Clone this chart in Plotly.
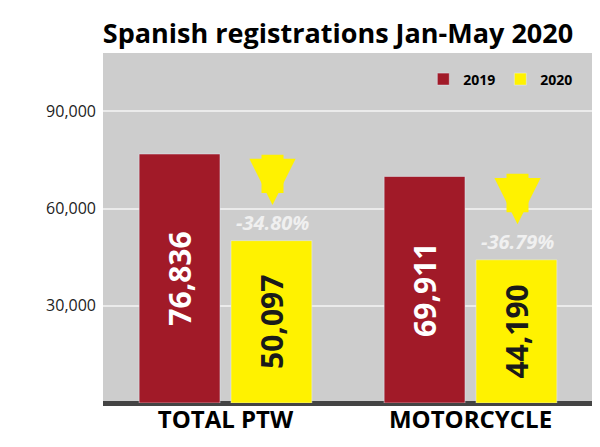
import plotly.graph_objects as go

categories = ["TOTAL PTW", "MOTORCYCLE"]
values_2019 = [76836, 69911]
values_2020 = [50097, 44190]
changes = ["-34.80%", "-36.79%"]

RED = "#a11a28"
YELLOW = "#fff200"

fig = go.Figure()
fig.add_trace(go.Bar(
    x=categories, y=values_2019, name="<b>2019</b>", marker_color=RED,
    text=[f"<b>{v:,}</b>" for v in values_2019], textposition="inside",
    textangle=-90, insidetextanchor="middle",
    textfont=dict(family="Open Sans", size=30, color="white"),
))
fig.add_trace(go.Bar(
    x=categories, y=values_2020, name="<b>2020</b>", marker_color=YELLOW,
    text=[f"<b>{v:,}</b>" for v in values_2020], textposition="inside",
    textangle=-90, insidetextanchor="middle",
    textfont=dict(family="Open Sans", size=30, color="#1a1a1a"),
))

# arrows and percentage change above the 2020 bars
for cat, v, ch in zip(categories, values_2020, changes):
    fig.add_annotation(
        x=cat, y=v + 11000, xshift=47, text="", showarrow=True,
        ax=cat, ay=v + 27000, axref="x", ayref="y",
        arrowcolor=YELLOW, arrowwidth=22, arrowhead=2, arrowsize=0.42,
    )
    fig.add_annotation(
        x=cat, y=v + 5500, xshift=47, text=f"<b><i>{ch}</i></b>",
        showarrow=False, font=dict(family="Open Sans", size=20, color="#f0f0f0"),
    )

fig.update_layout(
    width=600, height=447,
    margin=dict(l=95, r=15, t=45, b=52),
    paper_bgcolor="white", plot_bgcolor="#cdcdcd",
    title=dict(text="<b>Spanish registrations Jan-May 2020</b>", x=0.55, y=0.965,
               xanchor="center", font=dict(family="Open Sans", size=27, color="black")),
    barmode="group", bargap=0.25, bargroupgap=0.12,
    showlegend=True,
    legend=dict(orientation="h", x=0.97, y=0.97, xanchor="right", yanchor="top",
                bgcolor="rgba(0,0,0,0)", font=dict(family="Open Sans", size=14, color="black"),
                itemwidth=30),
    xaxis=dict(tickfont=dict(family="Open Sans", size=24, color="black"),
               tickprefix="<b>", ticksuffix="</b>", showline=False),
    yaxis=dict(range=[0, 108000], tickvals=[30000, 60000, 90000],
               tickformat=",", gridcolor="#ebebeb", gridwidth=2,
               tickfont=dict(family="Open Sans", size=16, color="#222"),
               zeroline=True, zerolinecolor="#444", zerolinewidth=5,
               ticklabelstandoff=6),
)

fig.write_html("out.html")
